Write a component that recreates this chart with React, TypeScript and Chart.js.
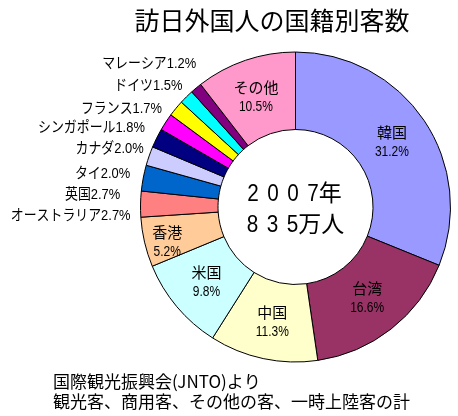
import { useEffect, useRef } from 'react';
import { Chart, registerables } from 'chart.js';

Chart.register(...registerables);

const categories = ['韓国', '台湾', '中国', '米国', '香港', 'オーストラリア', '英国', 'タイ', 'カナダ', 'シンガポール', 'フランス', 'ドイツ', 'マレーシア', 'その他'];
const shares = [31.2, 16.6, 11.3, 9.8, 5.2, 2.7, 2.7, 2.0, 2.0, 1.8, 1.7, 1.5, 1.2, 10.5];
const sliceColors = ['#9999FF', '#993366', '#FFFFCC', '#CCFFFF', '#FFCC99', '#FF8080', '#0066CC', '#CCCCFF', '#000080', '#FF00FF', '#FFFF00', '#00FFFF', '#800080', '#FF99CC'];
const labelInside = [true, true, true, true, true, false, false, false, false, false, false, false, false, true];
const labelNudges = [[0, 1], [0, 0], [1, 2], [0, 1], [-15, 9], [-10, 12], [-23, 17], [-19, 18], [-13, 11], [-21, 6], [-14, 0], [-4, -11], [0, -24], [-2, 1]];
const titleText = '訪日外国人の国籍別客数';
const centerLines = ['2007年', '835万人'];
const footerLines = ['国際観光振興会(JNTO)より', '観光客、商用客、その他の客、一時上陸客の計'];

const LABEL_FONT = '15px "Liberation Sans", "Noto Sans CJK JP", sans-serif';
const CJK = '"Noto Sans CJK JP", "Liberation Sans", sans-serif';

function drawScaled(ctx: CanvasRenderingContext2D, text: string, x: number, y: number, sx: number, align: CanvasTextAlign) {
  ctx.save();
  ctx.translate(x, y);
  ctx.scale(sx, 1);
  ctx.textAlign = align;
  ctx.fillText(text, 0, 0);
  ctx.restore();
}

function drawSpaced(ctx: CanvasRenderingContext2D, text: string, cx: number, cy: number, gap: number, sx: number) {
  const chars = Array.from(text);
  const isDigit = (c: string) => /[0-9]/.test(c);
  const widths = chars.map((c) => ctx.measureText(c).width * (isDigit(c) ? sx : 1));
  const gaps = chars.map((c, i) => (i < chars.length - 1 && isDigit(c) && isDigit(chars[i + 1]) ? gap : 0));
  const total = widths.reduce((a, b) => a + b, 0) + gaps.reduce((a, b) => a + b, 0);
  let x = cx - total / 2;
  chars.forEach((c, i) => {
    drawScaled(ctx, c, x, cy, isDigit(c) ? sx : 1, 'left');
    x += widths[i] + gaps[i];
  });
}

const labelPlugin = {
  id: 'customLabels',
  afterDatasetsDraw(chart: any) {
    const ctx: CanvasRenderingContext2D = chart.ctx;
    const meta = chart.getDatasetMeta(0);
    ctx.save();
    ctx.fillStyle = '#000';
    ctx.textBaseline = 'middle';
    let cx = 0;
    let cy = 0;
    meta.data.forEach((arc: any, i: number) => {
      const p = arc.getProps(['x', 'y', 'startAngle', 'endAngle', 'innerRadius', 'outerRadius'], true);
      cx = p.x;
      cy = p.y;
      const mid = (p.startAngle + p.endAngle) / 2;
      const pct = shares[i].toFixed(1) + '%';
      const [dx, dy] = labelNudges[i];
      ctx.font = LABEL_FONT;
      if (labelInside[i]) {
        const r = (p.innerRadius + p.outerRadius) / 2;
        const x = p.x + Math.cos(mid) * r + dx;
        const y = p.y + Math.sin(mid) * r + dy;
        drawScaled(ctx, categories[i], x, y - 9, 1, 'center');
        drawScaled(ctx, pct, x, y + 9, 0.8, 'center');
      } else {
        const r = p.outerRadius;
        const x = p.x + Math.cos(mid) * r + dx;
        const y = p.y + Math.sin(mid) * r + dy;
        drawScaled(ctx, categories[i] + pct, x, y, 0.86, 'right');
      }
    });
    // center text
    ctx.font = '23px "Liberation Sans", "Noto Sans CJK JP", sans-serif';
    drawSpaced(ctx, centerLines[0], cx - 1, cy - 12, 8.5, 0.9);
    drawSpaced(ctx, centerLines[1], cx, cy + 19, 8.5, 0.9);
    // title
    ctx.font = '25px ' + CJK;
    ctx.textAlign = 'center';
    ctx.fillText(titleText, 272, 20);
    // footer
    ctx.font = '17px ' + CJK;
    ctx.textAlign = 'left';
    ctx.fillText(footerLines[0], 53, 382);
    ctx.fillText(footerLines[1], 53, 402);
    ctx.restore();
  },
};

export default function App() {
  const ref = useRef<HTMLCanvasElement | null>(null);
  useEffect(() => {
    document.body.style.margin = '0';
    const canvas = ref.current;
    if (!canvas) return;
    const chart = new Chart(canvas, {
      type: 'doughnut',
      data: {
        labels: categories,
        datasets: [
          {
            data: shares,
            backgroundColor: sliceColors,
            borderColor: '#000',
            borderWidth: 1,
          },
        ],
      },
      options: {
        responsive: false,
        animation: false,
        cutout: '50%',
        layout: { padding: { left: 140, top: 51.5, right: 7, bottom: 53.5 } },
        plugins: {
          legend: { display: false },
          tooltip: { enabled: false },
          title: { display: false },
        },
      },
      plugins: [labelPlugin],
    });
    return () => chart.destroy();
  }, []);
  return (
    <div style={{ position: 'absolute', left: 0, top: 0, width: 458, height: 416, background: '#fff' }}>
      <canvas ref={ref} width={458} height={416} />
    </div>
  );
}
